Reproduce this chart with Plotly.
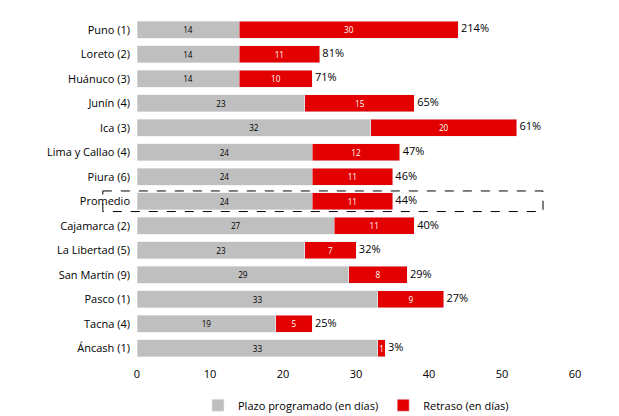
import plotly.graph_objects as go

regions = ["Puno (1)", "Loreto (2)", "Huánuco (3)", "Junín (4)", "Ica (3)", "Lima y Callao (4)",
           "Piura (6)", "Promedio", "Cajamarca (2)", "La Libertad (5)", "San Martín (9)",
           "Pasco (1)", "Tacna (4)", "Áncash (1)"]
plazo = [14, 14, 14, 23, 32, 24, 24, 24, 27, 23, 29, 33, 19, 33]
retraso = [30, 11, 10, 15, 20, 12, 11, 11, 11, 7, 8, 9, 5, 1]
pct = ["214%", "81%", "71%", "65%", "61%", "47%", "46%", "44%", "40%", "32%", "29%", "27%", "25%", "3%"]

totals = [p + r for p, r in zip(plazo, retraso)]
font = "Open Sans, Arial, sans-serif"

fig = go.Figure()
fig.add_trace(go.Bar(
    y=regions, x=plazo, orientation="h", name="Plazo programado (en días)",
    marker_color="#BFBFBF", text=plazo, textposition="inside", insidetextanchor="middle",
    textangle=0, textfont=dict(color="black", size=11),
))
fig.add_trace(go.Bar(
    y=regions, x=retraso, orientation="h", name="Retraso (en días)",
    marker_color="#E30000", text=retraso, textposition="inside", insidetextanchor="middle",
    textangle=0, textfont=dict(color="white", size=11),
))
fig.add_trace(go.Scatter(
    y=regions, x=totals, mode="text", text=[" " + p for p in pct], textposition="middle right",
    textfont=dict(color="black", size=11), showlegend=False, cliponaxis=False,
))

# dashed box around the average row
fig.add_shape(type="rect", xref="paper", yref="y", x0=-0.078, x1=0.927,
              y0=7 - 0.42, y1=7 + 0.42, line=dict(color="black", width=1, dash="dash"))

fig.update_layout(
    width=619, height=416, barmode="stack", bargap=0.3,
    plot_bgcolor="white", paper_bgcolor="white",
    font=dict(family=font, size=11, color="black"),
    margin=dict(l=129, r=52, t=4, b=48),
    uniformtext=dict(minsize=8, mode="show"),
    legend=dict(orientation="h", x=0.5, xanchor="center", y=-0.07, yanchor="top",
                font=dict(size=11), traceorder="normal", itemwidth=30),
    xaxis=dict(range=[0, 60], dtick=10, showgrid=False, zeroline=False,
               ticks="", showline=False, automargin=False),
    yaxis=dict(autorange="reversed", showgrid=False, ticks="", ticklabelstandoff=6,
               automargin=False),
)

fig.write_html("out.html")
